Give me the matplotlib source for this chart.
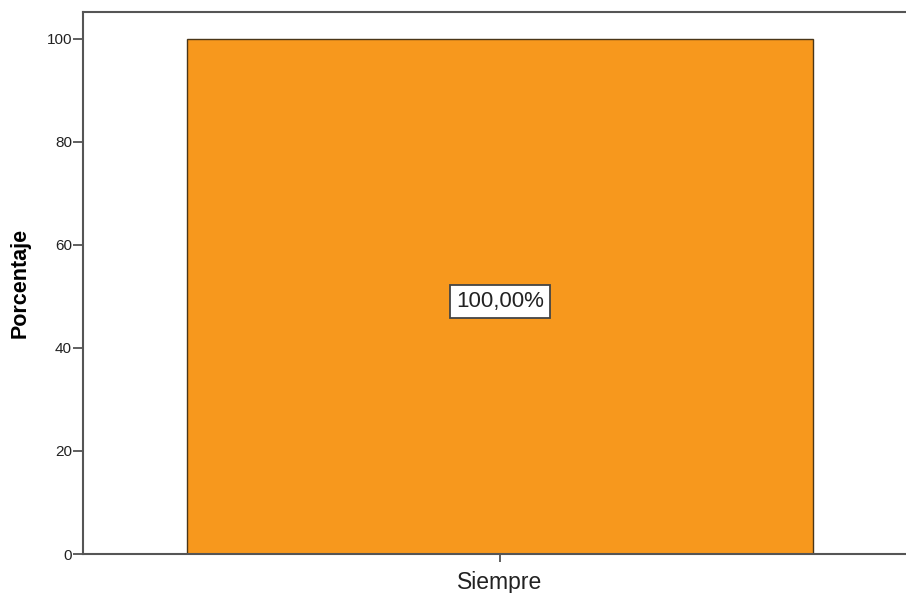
import matplotlib
matplotlib.use("Agg")
import matplotlib.pyplot as plt

plt.rcParams["font.family"] = ["Liberation Sans", "DejaVu Sans"]

categories = ["Siempre"]
values = [100.0]
labels = ["100,00%"]
yticks = [0, 20, 40, 60, 80, 100]

fig = plt.figure(figsize=(9.06, 5.93), dpi=100)
ax = fig.add_axes([83/906, 39/593, 834/906, 542/593])
x = list(range(len(categories)))
ax.bar(x, values, width=0.75, color="#F7981D", edgecolor="#4a3618", linewidth=1.0, zorder=2)
ax.set_xlim(-0.5, 0.5)
ax.set_ylim(0, 105.2)
ax.set_xticks(x)
ax.set_xticklabels(categories, fontsize=16.5, color="#222222")
ax.set_yticks(yticks)
ax.set_yticklabels([str(t) for t in yticks], fontsize=11, color="#222222")
ax.set_ylabel("Porcentaje", fontsize=15.5, fontweight="bold", labelpad=11)
for s in ["left", "bottom", "top"]:
    ax.spines[s].set_color("#555555")
    ax.spines[s].set_linewidth(1.5)
ax.spines["right"].set_visible(False)
ax.tick_params(axis="y", direction="out", length=7, width=1.2, color="#444444", pad=1)
ax.tick_params(axis="x", direction="out", length=6, width=1.2, color="#444444", pad=6.5)
for xi, v, lab in zip(x, values, labels):
    ax.text(xi, v * 0.49, lab, ha="center", va="center", fontsize=16, color="#222222",
            bbox=dict(boxstyle="square,pad=0.27", facecolor="white", edgecolor="#444444", linewidth=1.3))
fig.savefig("out.png", dpi=100)
